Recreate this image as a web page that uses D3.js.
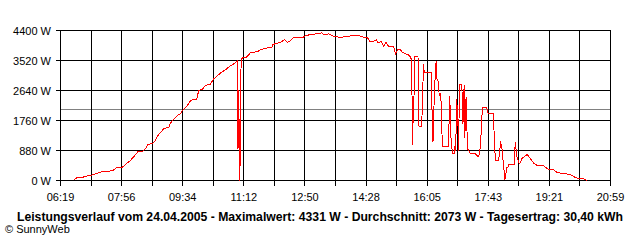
<!DOCTYPE html>
<meta charset="utf-8">
<style>
  body { margin: 0; background: #fff; }
  .lbl { font-family: "Liberation Sans", Arial, sans-serif; font-size: 11px; fill: #000; }
  .title { font-family: "Liberation Sans", Arial, sans-serif; font-size: 12px; font-weight: bold; fill: #000; }
</style>
<body>
<script src="https://cdn.jsdelivr.net/npm/d3@7"></script>
<script>

  // tick labels of the time axis (every second grid line)
  var timeLabels = ["06:19", "07:56", "09:34", "11:12", "12:50", "14:28", "16:05", "17:43", "19:21", "20:59"];
  var powerTicks = [0, 880, 1760, 2640, 3520, 4400];

  // summary values
  var dayLabel = "24.04.2005";
  var maxW = 4331, avgW = 2073, yieldKWh = "30,40";

  // power curve
  var times = [
    "06:40", "06:45", "06:55", "06:57", "07:07", "07:12", "07:18", "07:26", "07:36", "07:43",
    "07:49", "07:58", "08:03", "08:11", "08:22", "08:23", "08:30", "08:35", "08:39", "08:46",
    "08:51", "08:54", "09:02", "09:05", "09:12", "09:15", "09:21", "09:26", "09:30", "09:35",
    "09:42", "09:48", "09:57", "10:00", "10:06", "10:11", "10:19", "10:24", "10:35", "10:43",
    "10:50", "10:56", "11:02", "11:03", "11:04", "11:06", "11:08", "11:15", "11:18", "11:23",
    "11:28", "11:35", "11:39", "11:44", "11:50", "11:57", "11:59", "12:06", "12:11", "12:18",
    "12:22", "12:26", "12:32", "12:40", "12:47", "12:51", "12:59", "13:07", "13:15", "13:17",
    "13:20", "13:28", "13:36", "13:47", "14:06", "14:16", "14:24", "14:30", "14:34", "14:41",
    "14:44", "14:47", "14:52", "14:56", "15:00", "15:04", "15:12", "15:15", "15:19", "15:23",
    "15:26", "15:31", "15:35", "15:39", "15:41", "15:42", "15:43", "15:44", "15:45", "15:46",
    "15:51", "15:52", "15:54", "15:57", "15:58", "16:00", "16:01", "16:12", "16:13", "16:14",
    "16:15", "16:16", "16:17", "16:19", "16:20", "16:21", "16:23", "16:24", "16:25", "16:27",
    "16:28", "16:29", "16:30", "16:40", "16:41", "16:42", "16:43", "16:45", "16:46", "16:49",
    "16:50", "16:51", "16:52", "16:53", "16:55", "16:56", "16:57", "16:58", "17:01", "17:02",
    "17:03", "17:04", "17:05", "17:06", "17:07", "17:08", "17:09", "17:10", "17:11", "17:14",
    "17:15", "17:23", "17:25", "17:28", "17:30", "17:31", "17:33", "17:34", "17:35", "17:41",
    "17:42", "17:44", "17:52", "17:53", "17:55", "18:00", "18:02", "18:03", "18:05", "18:06",
    "18:07", "18:08", "18:10", "18:12", "18:13", "18:15", "18:16", "18:25", "18:26", "18:27",
    "18:28", "18:29", "18:31", "18:32", "18:34", "18:36", "18:38", "18:40", "18:43", "18:46",
    "18:48", "18:51", "18:56", "19:02", "19:12", "19:18", "19:28", "19:34", "19:47", "19:58",
    "20:03", "20:16", "20:21"
  ];
  var watts = [
    10, 80, 80, 120, 150, 180, 210, 260, 270, 290,
    390, 390, 470, 590, 820, 850, 840, 930, 1060, 1080,
    1170, 1300, 1470, 1530, 1550, 1690, 1810, 1910, 1940, 2070,
    2200, 2360, 2370, 2640, 2670, 2790, 2830, 2980, 3150, 3250,
    3350, 3420, 3510, 910, 2640, 0, 3590, 3600, 3640, 3750,
    3760, 3790, 3830, 3860, 3890, 3890, 3990, 4030, 4060, 4130,
    4060, 4080, 4190, 4200, 4200, 4250, 4280, 4300, 4320, 4331,
    4280, 4300, 4230, 4200, 4250, 4250, 4200, 4190, 4080, 4090,
    4130, 4040, 4080, 3940, 4060, 3930, 3930, 3720, 3840, 3830,
    3760, 3720, 3690, 3620, 3520, 1030, 2300, 1700, 2990, 3650,
    3650, 1610, 1580, 1580, 2350, 3420, 3160, 3160, 2490, 1470,
    1140, 1700, 2490, 3230, 3490, 2990, 2930, 2730, 2490, 2550,
    2290, 1610, 1000, 1000, 2050, 2490, 1410, 1030, 790, 790,
    1000, 880, 1470, 2380, 1610, 880, 2350, 2810, 2810, 2350,
    1670, 2490, 2790, 1260, 2050, 2460, 1760, 980, 910, 820,
    780, 780, 730, 700, 880, 1030, 1760, 2140, 2150, 2150,
    2020, 1960, 1960, 1170, 590, 590, 880, 1170, 940, 880,
    590, 440, 20, 230, 380, 390, 470, 470, 940, 1120,
    880, 730, 590, 530, 490, 590, 670, 680, 730, 760,
    700, 640, 510, 440, 440, 340, 310, 230, 200, 150,
    80, 50, 0
  ];

  var plotLeft = 60.5, plotRight = 610.5, plotTop = 30.5, plotBottom = 180.5;

  var parseTime = d3.timeParse("%H:%M");
  var data = times.map(function (t, i) { return { t: parseTime(t), w: watts[i] }; });

  var x = d3.scaleTime()
    .domain([parseTime(timeLabels[0]), parseTime(timeLabels[timeLabels.length - 1])])
    .range([plotLeft, plotRight]);
  var y = d3.scaleLinear()
    .domain([0, 4400])
    .range([plotBottom, plotTop]);

  // grid: 18 equal time divisions, labels on every second one
  var nDiv = (timeLabels.length - 1) * 2;
  var gx = d3.scaleLinear().domain([0, nDiv]).range([plotLeft, plotRight]);

  var svg = d3.select("body").append("svg")
    .attr("width", 640)
    .attr("height", 240);

  svg.append("rect")
    .attr("width", 640).attr("height", 240).attr("fill", "#fff");

  // average line (under the grid)
  var avgY = Math.round(y(avgW) - 0.5) + 0.5;
  svg.append("line")
    .attr("x1", plotLeft).attr("x2", plotRight)
    .attr("y1", avgY).attr("y2", avgY)
    .attr("stroke", "#808080")
    .attr("shape-rendering", "crispEdges");

  // vertical grid lines with ticks below
  svg.append("g").selectAll("line")
    .data(d3.range(nDiv + 1))
    .enter().append("line")
    .attr("x1", function (d) { return Math.round(gx(d) - 0.5) + 0.5; })
    .attr("x2", function (d) { return Math.round(gx(d) - 0.5) + 0.5; })
    .attr("y1", plotTop)
    .attr("y2", plotBottom + 5)
    .attr("stroke", "#000")
    .attr("shape-rendering", "crispEdges");

  // horizontal grid lines with ticks left
  svg.append("g").selectAll("line")
    .data(powerTicks)
    .enter().append("line")
    .attr("x1", plotLeft - 5)
    .attr("x2", plotRight)
    .attr("y1", function (d) { return y(d); })
    .attr("y2", function (d) { return y(d); })
    .attr("stroke", "#000")
    .attr("shape-rendering", "crispEdges");

  // y labels
  svg.append("g").selectAll("text")
    .data(powerTicks)
    .enter().append("text")
    .attr("class", "lbl")
    .attr("x", 51)
    .attr("y", function (d) { return y(d) + 4; })
    .attr("text-anchor", "end")
    .text(function (d) { return d + " W"; });

  // x labels
  svg.append("g").selectAll("text")
    .data(timeLabels)
    .enter().append("text")
    .attr("class", "lbl")
    .attr("x", function (d, i) { return gx(i * 2); })
    .attr("y", 201)
    .attr("text-anchor", "middle")
    .text(function (d) { return d; });

  // power curve
  var line = d3.line()
    .x(function (d) { return x(d.t); })
    .y(function (d) { return y(d.w); });

  svg.append("path")
    .datum(data)
    .attr("d", line)
    .attr("fill", "none")
    .attr("stroke", "#ff0000")
    .attr("stroke-width", 1)
    .attr("shape-rendering", "crispEdges");

  // caption
  svg.append("text")
    .attr("class", "title")
    .attr("x", 17)
    .attr("y", 221)
    .attr("textLength", 606)
    .attr("lengthAdjust", "spacingAndGlyphs")
    .text("Leistungsverlauf vom " + dayLabel + " - Maximalwert: " + maxW + " W - Durchschnitt: " +
      avgW + " W - Tagesertrag: " + yieldKWh + " kWh");

  svg.append("text")
    .attr("class", "lbl")
    .attr("x", 5)
    .attr("y", 233)
    .text("\u00a9 SunnyWeb");

</script>
</body>
